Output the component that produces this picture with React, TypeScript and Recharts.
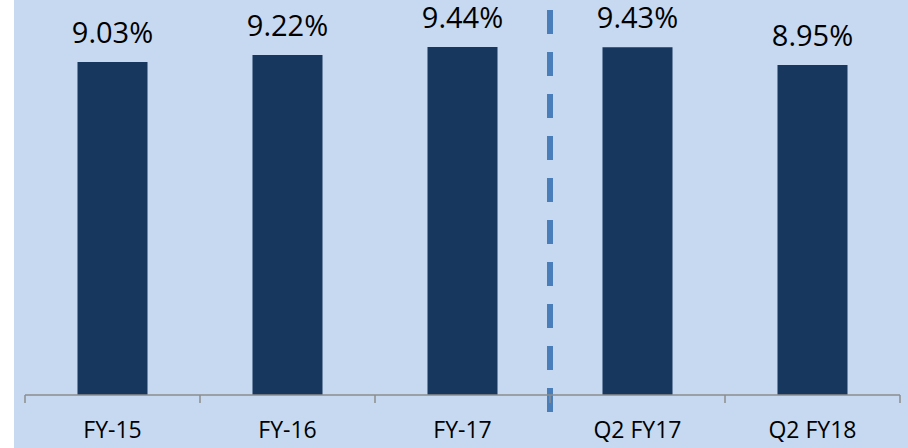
import React from 'react';
import { BarChart, Bar, XAxis, YAxis, LabelList, ReferenceLine } from 'recharts';

const categories = ['FY-15', 'FY-16', 'FY-17', 'Q2 FY17', 'Q2 FY18'];
const ratioValues = [9.03, 9.22, 9.44, 9.43, 8.95];
const valueLabels = ['9.03%', '9.22%', '9.44%', '9.43%', '8.95%'];
const dividerCategory = 'Q2 FY17';

const data = categories.map((name, i) => ({ name, value: ratioValues[i], label: valueLabels[i] }));

const FONT = '"Open Sans", "Noto Sans", sans-serif';

const BoundaryTick = (props: any) => {
  const { x, y, payload, index } = props;
  const half = payload && typeof payload.offset === 'number' ? payload.offset : 87.5;
  const isLast = index === categories.length - 1;
  return (
    <g>
      <line x1={x - half} x2={x - half} y1={y - 8} y2={y} stroke="#8C8C8C" strokeWidth={1.5} />
      {isLast && <line x1={x + half} x2={x + half} y1={y - 8} y2={y} stroke="#8C8C8C" strokeWidth={1.5} />}
      <text x={x} y={y + 35} textAnchor="middle" fontSize={23} fill="#000" fontFamily={FONT}>
        {payload.value}
      </text>
    </g>
  );
};

export default function App() {
  return (
    <div style={{ position: 'fixed', left: 14, top: 0, width: 894, height: 448, background: '#C6D9F1' }}>
      <BarChart
        width={894}
        height={448}
        data={data}
        margin={{ top: 10, right: 8, left: 11, bottom: 0 }}
        barCategoryGap="30%"
      >
        <XAxis
          dataKey="name"
          height={53}
          tickLine={false}
          tickSize={8}
          tickMargin={0}
          axisLine={{ stroke: '#8C8C8C', strokeWidth: 1.5 }}
          tick={<BoundaryTick />}
          interval={0}
        />
        <YAxis hide domain={[0, 10.44]} />
        <Bar dataKey="value" fill="#17375E" isAnimationActive={false}>
          <LabelList dataKey="label" position="top" offset={19} fontSize={29} fill="#000" fontFamily={FONT} />
        </Bar>
        <ReferenceLine
          segment={[{ x: dividerCategory, y: 10.44 }, { x: dividerCategory, y: -0.46 }]}
          position="start"
          ifOverflow="visible"
          stroke="#4A7EBB"
          strokeWidth={6}
          strokeDasharray="24 18"
        />
      </BarChart>
    </div>
  );
}
